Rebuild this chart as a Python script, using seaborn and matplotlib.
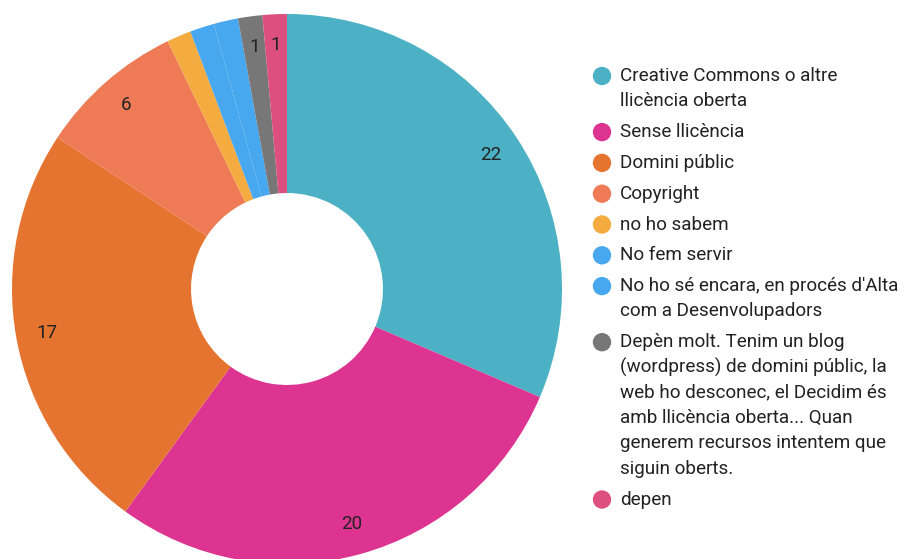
import matplotlib
matplotlib.use("Agg")
import matplotlib.pyplot as plt
import seaborn as sns

# Survey answers: licence used for published material
categories = [
    "Creative Commons o altre llicència oberta",
    "Sense llicència",
    "Domini públic",
    "Copyright",
    "no ho sabem",
    "No fem servir",
    "No ho sé encara, en procés d'Alta com a Desenvolupadors",
    "Depèn molt. Tenim un blog (wordpress) de domini públic, la web ho desconec, el Decidim és amb llicència oberta... Quan generem recursos intentem que siguin oberts.",
    "depen",
]
counts = [22, 20, 17, 6, 1, 1, 1, 1, 1]
show_value = [True, True, True, True, False, False, False, True, True]

# Legend text broken into display lines
legend_lines = [
    ["Creative Commons o altre", "llicència oberta"],
    ["Sense llicència"],
    ["Domini públic"],
    ["Copyright"],
    ["no ho sabem"],
    ["No fem servir"],
    ["No ho sé encara, en procés d'Alta", "com a Desenvolupadors"],
    ["Depèn molt. Tenim un blog", "(wordpress) de domini públic, la",
     "web ho desconec, el Decidim és", "amb llicència oberta... Quan",
     "generem recursos intentem que", "siguin oberts."],
    ["depen"],
]

colors = ["#4DB1C5", "#DD3492", "#E57430", "#EE7B55", "#F4AB3F",
          "#47A7EF", "#47A7EF", "#777777", "#DD4F7F"]

sns.set_theme(style="white")
plt.rcParams["font.family"] = ["Roboto", "DejaVu Sans"]

W, H = 905, 559
fig = plt.figure(figsize=(W / 100, H / 100), dpi=100)
fig.patch.set_facecolor("white")

# Donut axes: centre (287, 289) px, radius 275 px
cx, cy, R = 287, 289, 275
ax = fig.add_axes([(cx - R) / W, (H - cy - R) / H, 2 * R / W, 2 * R / H])
labels_iter = iter([str(v) if s else "" for v, s in zip(counts, show_value)])


def fmt(pct):
    return next(labels_iter)


wedges, _, autotexts = ax.pie(
    counts, colors=colors, startangle=90, counterclock=False,
    radius=1.0, autopct=fmt, pctdistance=0.887,
    wedgeprops=dict(width=0.651, linewidth=0),
    textprops=dict(color="#222222", fontsize=13.5),
)
ax.set_xlim(-1, 1)
ax.set_ylim(-1, 1)
ax.set_aspect("equal")
ax.axis("off")

# Legend drawn on a pixel-space overlay
lax = fig.add_axes([0, 0, 1, 1])
lax.set_xlim(0, W)
lax.set_ylim(H, 0)
lax.axis("off")

y = 76
line_h = 25.3
gap = 5.5
for col, lines in zip(colors, legend_lines):
    lax.scatter([602], [y], s=175, color=col, edgecolors="none", zorder=3)
    for i, ln in enumerate(lines):
        lax.text(620, y + i * line_h, ln, fontsize=13.6, color="#222222",
                 va="center", ha="left")
    y += len(lines) * line_h + gap

fig.savefig("out.png", dpi=100, facecolor="white")
